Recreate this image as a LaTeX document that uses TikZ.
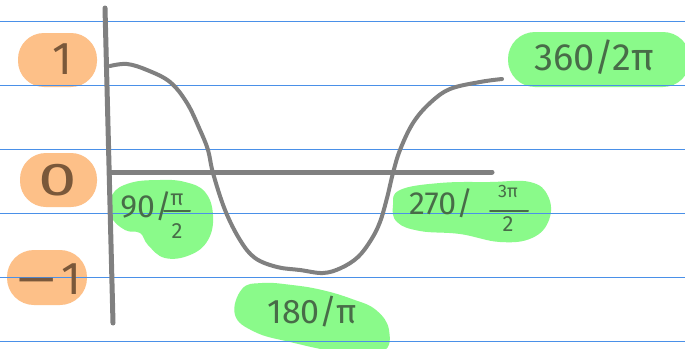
\documentclass[tikz,border=0pt]{standalone}
\usepackage{fontspec}
\setmainfont{Fira Sans}
\definecolor{ruleblue}{RGB}{74,144,232}
\definecolor{pen}{RGB}{128,128,128}
\definecolor{orangehl}{RGB}{253,192,136}
\definecolor{greenhl}{RGB}{138,250,138}
\definecolor{browntext}{RGB}{122,88,58}
\definecolor{greentext}{RGB}{72,108,72}
\tikzset{
  penline/.style={draw=pen, line width=4pt, line cap=round, line join=round},
  axisline/.style={draw=pen, line width=5pt, line cap=round},
  orangeblob/.style={fill=orangehl},
  greenblob/.style={fill=greenhl},
  bigdigit/.style={text=browntext, font=\fontsize{46}{50}\selectfont, inner sep=0pt},
  greenlabel/.style={text=greentext, font=\fontsize{32}{36}\selectfont, inner sep=0pt},
  fraclabel/.style={text=greentext, font=\fontsize{22}{24}\selectfont, inner sep=0pt},
  fracbar/.style={draw=greentext, line width=2pt, line cap=round}
}
\begin{document}
\begin{tikzpicture}[x=1pt,y=-1pt]
\useasboundingbox (0,0) rectangle (685,348);
\fill[white] (0,0) rectangle (685,348);
% highlight blobs
\fill[orangeblob, rounded corners=26pt] (18,33) rectangle (97,87);
\fill[orangeblob, rounded corners=26pt] (20,153) rectangle (97,207);
\fill[orangeblob, rounded corners=27pt] (7,250) rectangle (87,305);
\fill[greenblob, rounded corners=27pt] (508,32) rectangle (690,87);
\fill[greenblob] plot[smooth cycle, tension=0.7] coordinates {(112,195) (130,183) (160,180) (185,182) (205,192) (213,215) (208,240) (190,255) (165,258) (148,245) (140,233) (125,230) (111,216)};
\fill[greenblob] plot[smooth cycle, tension=0.7] coordinates {(400,190) (440,183) (490,182) (530,182) (548,196) (549,220) (532,238) (500,242) (460,234) (420,231) (397,222) (393,205)};
\fill[greenblob] plot[smooth cycle, tension=0.7] coordinates {(242,289) (262,283) (292,285) (322,290) (352,299) (376,310) (389,330) (382,352) (340,352) (290,342) (255,332) (235,315)};
% paper rules
\fill[ruleblue] (0,20.7) rectangle (685,22.3);
\fill[ruleblue] (0,84.7) rectangle (685,86.3);
\fill[ruleblue] (0,148.7) rectangle (685,150.3);
\fill[ruleblue] (0,212.7) rectangle (685,214.3);
\fill[ruleblue] (0,276.7) rectangle (685,278.3);
\fill[ruleblue] (0,340.7) rectangle (685,342.3);
% axes
\coordinate (ytop) at (105,8);
\coordinate (ybot) at (113,323);
\coordinate (xleft) at (111,172);
\coordinate (xright) at (492,172);
\draw[axisline] (ytop) -- (ybot);
\draw[axisline] (xleft) -- (xright);
% cosine curve
\draw[penline] plot[smooth, tension=0.6] coordinates {(110,66) (127,64) (147,70) (170,82) (187,103) (200,130) (208,150) (213,173) (225,210) (240,240) (255,258) (277,267) (300,270) (323,273) (341,268) (358,257) (371,240) (380,222) (387,198) (393,173) (400,150) (413,123) (430,103) (450,89) (480,82) (502,79)};
% orange labels
\node[bigdigit] (one) at (62,59) {1};
\node[bigdigit, xscale=1.5] (zero) at (58,180) {0};
\node[bigdigit] (minusone) at (50,279) {—\hspace{6pt}1};
% green labels
\node[greenlabel] (l90) at (146,206) {90/};
\node[fraclabel] (p90) at (177,200) {π};
\node[fraclabel] (d90) at (177,231) {2};
\draw[fracbar] (164,211) -- (190,211);
\node[greenlabel] (l270) at (441,203) {270/};
\node[fraclabel, font=\fontsize{18}{20}\selectfont] (p270) at (508,191) {3π};
\node[fraclabel] (d270) at (508,224) {2};
\draw[fracbar] (490,211) -- (528,211);
\node[greenlabel, font=\fontsize{34}{38}\selectfont] (l180) at (312,312) {180/π};
\node[greenlabel, font=\fontsize{38}{42}\selectfont] (l360) at (594,57) {360/2π};
\end{tikzpicture}
\end{document}
